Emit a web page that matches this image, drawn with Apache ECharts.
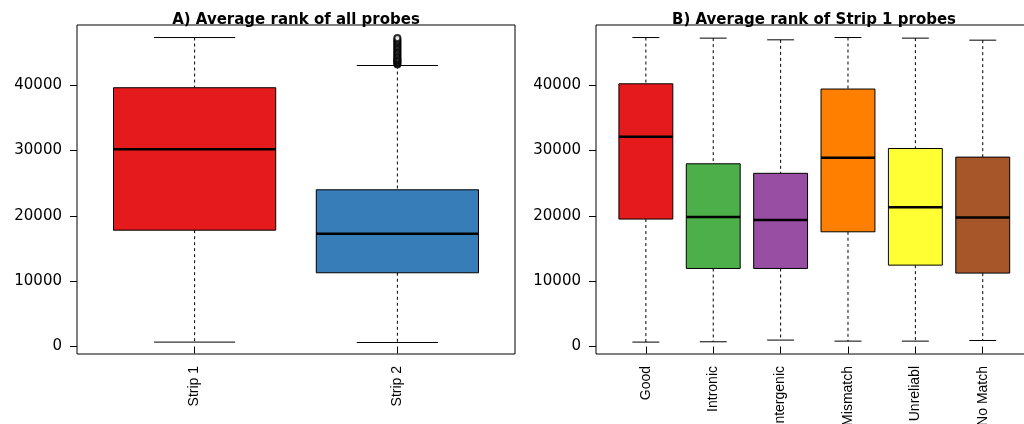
<!DOCTYPE html>
<html>
<head>
<meta charset="utf-8">
<script src="https://cdn.jsdelivr.net/npm/echarts@6/dist/echarts.min.js"></script>
<style>
  html, body { margin: 0; padding: 0; background: #fff; }
  #chart { width: 1024px; height: 424px; }
</style>
</head>
<body>
<div id="chart"></div>
<script>
// ---- Data ----
const leftCats = ['Strip 1', 'Strip 2'];
const leftLow  = [670, 610];
const leftQ1   = [17800, 11280];
const leftMed  = [30200, 17250];
const leftQ3   = [39600, 23980];
const leftHigh = [47280, 43000];
const strip2Outliers = [43150, 43300, 43450, 43600, 43750, 43900, 44050, 44200, 44400, 44600,
                        44800, 45000, 45200, 45400, 45600, 45800, 46000, 46200, 46400, 46600,
                        46800, 47000, 47200];

const rightCats = ['Good', 'Intronic', 'Intergenic', 'Mismatch', 'Unreliabl', 'No Match'];
const rightLow  = [670, 720, 980, 820, 820, 920];
const rightQ1   = [19500, 11940, 11940, 17550, 12450, 11230];
const rightMed  = [32100, 19800, 19350, 28900, 21300, 19750];
const rightQ3   = [40200, 27960, 26500, 39400, 30300, 28980];
const rightHigh = [47280, 47190, 46930, 47280, 47190, 46880];

const yTicks = [0, 10000, 20000, 30000, 40000];

// ---- Styles ----
const leftColors  = ['#E41A1C', '#377EB8'];
const rightColors = ['#E41A1C', '#4DAF4A', '#984EA3', '#FF7F00', '#FFFF33', '#A65628'];

function buildData(low, q1, med, q3, high, colors) {
  return low.map((v, i) => ({
    value: [i + 1, low[i], q1[i], med[i], q3[i], high[i]],
    itemStyle: { color: colors[i] }
  }));
}

function renderBox(params, api) {
  const x = api.value(0);
  const pLo  = api.coord([x, api.value(1)]);
  const pQ1  = api.coord([x, api.value(2)]);
  const pMed = api.coord([x, api.value(3)]);
  const pQ3  = api.coord([x, api.value(4)]);
  const pHi  = api.coord([x, api.value(5)]);
  const w = api.size([0.8, 0])[0];
  const cx = pMed[0];
  const color = api.visual('color');
  const dash = { stroke: '#000', lineWidth: 1, lineDash: [3, 3] };
  const solid = { stroke: '#000', lineWidth: 1 };
  return {
    type: 'group',
    children: [
      { type: 'line', shape: { x1: cx, y1: pHi[1], x2: cx, y2: pQ3[1] }, style: dash },
      { type: 'line', shape: { x1: cx, y1: pQ1[1], x2: cx, y2: pLo[1] }, style: dash },
      { type: 'line', shape: { x1: cx - w / 4, y1: pHi[1], x2: cx + w / 4, y2: pHi[1] }, style: solid },
      { type: 'line', shape: { x1: cx - w / 4, y1: pLo[1], x2: cx + w / 4, y2: pLo[1] }, style: solid },
      { type: 'rect', shape: { x: cx - w / 2, y: pQ3[1], width: w, height: pQ1[1] - pQ3[1] },
        style: { fill: color, stroke: '#000', lineWidth: 1 } },
      { type: 'line', shape: { x1: cx - w / 2, y1: pMed[1], x2: cx + w / 2, y2: pMed[1] },
        style: { stroke: '#000', lineWidth: 2.5 } }
    ]
  };
}

const yMin = -1150, yMax = 49200;

function yAxisDef(gridIndex) {
  return {
    type: 'value', gridIndex: gridIndex, min: yMin, max: yMax,
    axisLine: { show: false },
    splitLine: { show: false },
    axisTick: { show: true, length: 7, inside: false, customValues: yTicks,
                lineStyle: { color: '#000', width: 1 } },
    axisLabel: { customValues: yTicks, margin: 15, color: '#000',
                 fontFamily: 'DejaVu Sans', fontSize: 15,
                 formatter: v => String(v) }
  };
}

function xAxisDef(gridIndex, min, max, cats) {
  const ticks = cats.map((c, i) => i + 1);
  return {
    type: 'value', gridIndex: gridIndex, min: min, max: max,
    axisLine: { show: false },
    splitLine: { show: false },
    axisTick: { show: true, length: 7, customValues: ticks,
                lineStyle: { color: '#000', width: 1 } },
    axisLabel: { customValues: ticks, rotate: 90, margin: 12, color: '#000',
                 fontFamily: 'Liberation Sans', fontSize: 14,
                 formatter: v => cats[Math.round(v) - 1] }
  };
}

const chart = echarts.init(document.getElementById('chart'), null, { renderer: 'canvas' });
chart.setOption({
  backgroundColor: '#fff',
  animation: false,
  title: [
    { text: 'A) Average rank of all probes', left: 296, top: 13, textAlign: 'center', padding: 0,
      textStyle: { fontFamily: 'DejaVu Sans', fontWeight: 'bold', fontSize: 15, color: '#000' } },
    { text: 'B) Average rank of Strip 1 probes', left: 814, top: 13, textAlign: 'center', padding: 0,
      textStyle: { fontFamily: 'DejaVu Sans', fontWeight: 'bold', fontSize: 15, color: '#000' } }
  ],
  grid: [
    { left: 77, width: 438, top: 25, height: 329, show: true, borderColor: '#000', borderWidth: 1,
      backgroundColor: 'transparent', outerBoundsMode: 'none', containLabel: false },
    { left: 596, width: 436.6, top: 25, height: 329, show: true, borderColor: '#000', borderWidth: 1,
      backgroundColor: 'transparent', outerBoundsMode: 'none', containLabel: false }
  ],
  xAxis: [
    xAxisDef(0, 0.42, 2.58, leftCats),
    xAxisDef(1, 0.26, 6.74, rightCats)
  ],
  yAxis: [yAxisDef(0), yAxisDef(1)],
  series: [
    { type: 'custom', xAxisIndex: 0, yAxisIndex: 0, renderItem: renderBox,
      encode: { x: 0, y: [1, 2, 3, 4, 5] },
      data: buildData(leftLow, leftQ1, leftMed, leftQ3, leftHigh, leftColors) },
    { type: 'scatter', xAxisIndex: 0, yAxisIndex: 0, symbol: 'emptyCircle', symbolSize: 6,
      itemStyle: { color: '#000', borderColor: '#000', borderWidth: 1 },
      data: strip2Outliers.map(v => [2, v]) },
    { type: 'custom', xAxisIndex: 1, yAxisIndex: 1, renderItem: renderBox,
      encode: { x: 0, y: [1, 2, 3, 4, 5] },
      data: buildData(rightLow, rightQ1, rightMed, rightQ3, rightHigh, rightColors) }
  ]
});
</script>
</body>
</html>
